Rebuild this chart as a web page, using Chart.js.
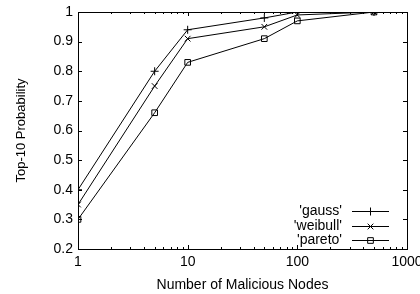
<!DOCTYPE html>
<html>
<head>
<meta charset="utf-8">
<script src="https://cdn.jsdelivr.net/npm/chart.js@4/dist/chart.umd.min.js"></script>
<style>
  html, body { margin: 0; padding: 0; background: #fff; }
  #wrap { width: 420px; height: 294px; }
</style>
</head>
<body>
<div id="wrap"><canvas id="LineChart"></canvas></div>
<script>
var nodes = [1, 5, 10, 50, 100, 500];
var gauss = [0.40, 0.80, 0.94, 0.98, 1.00, 1.00];
var weibull = [0.35, 0.75, 0.91, 0.95, 0.99, 1.00];
var pareto = [0.30, 0.66, 0.83, 0.91, 0.97, 1.00];
var xTicks = [1, 10, 100, 1000];
var seriesNames = ["'gauss'", "'weibull'", "'pareto'"];

function pts(vals) {
    return nodes.map(function (n, i) { return { x: n, y: vals[i] }; });
}

var fam = 'Liberation Sans, Arial, sans-serif';
var font = { family: fam, size: 14 };

var data = {
    datasets: [{
        label: seriesNames[0],
        data: pts(gauss),
        borderColor: '#000', backgroundColor: 'rgba(0,0,0,0)',
        borderWidth: 1, pointStyle: 'cross', pointRadius: 4,
    }, {
        label: seriesNames[1],
        data: pts(weibull),
        borderColor: '#000', backgroundColor: 'rgba(0,0,0,0)',
        borderWidth: 1, pointStyle: 'crossRot', pointRadius: 4,
    }, {
        label: seriesNames[2],
        data: pts(pareto),
        borderColor: '#000', backgroundColor: 'rgba(0,0,0,0)',
        borderWidth: 1, pointStyle: 'rect', pointRadius: 4,
    }]
};

// box, inward ticks and the gnuplot style key
var gnuplotBits = {
    id: 'gnuplotBits',
    afterDraw: function (chart) {
        var ctx = chart.ctx, a = chart.chartArea;
        var xs = chart.scales.x, ys = chart.scales.y;
        ctx.save();
        ctx.strokeStyle = '#000';
        ctx.lineWidth = 1;
        ctx.strokeRect(Math.round(a.left) + 0.5, Math.round(a.top) + 0.5,
            Math.round(a.right - a.left), Math.round(a.bottom - a.top));
        ctx.beginPath();
        ys.ticks.forEach(function (t) {
            var y = Math.round(ys.getPixelForValue(t.value)) + 0.5;
            ctx.moveTo(a.left, y); ctx.lineTo(a.left + 4, y);
            ctx.moveTo(a.right, y); ctx.lineTo(a.right - 4, y);
        });
        for (var d = 1; d < 1000; d *= 10) {
            for (var m = 1; m < 10; m++) {
                var v = d * m;
                var x = Math.round(xs.getPixelForValue(v)) + 0.5;
                var len = m === 1 ? 4 : 2;
                ctx.moveTo(x, a.bottom); ctx.lineTo(x, a.bottom - len);
                ctx.moveTo(x, a.top); ctx.lineTo(x, a.top + len);
            }
        }
        ctx.stroke();

        // key
        ctx.font = '14px ' + fam;
        ctx.textAlign = 'right';
        ctx.textBaseline = 'middle';
        chart.data.datasets.forEach(function (ds, i) {
            var y = Math.round(211 + i * 14.5) + 0.5;
            ctx.fillStyle = '#000';
            ctx.fillText(ds.label, 342, y);
            ctx.beginPath();
            ctx.moveTo(352, y);
            ctx.lineTo(389, y);
            ctx.stroke();
            ctx.fillStyle = 'rgba(0,0,0,0)';
            Chart.helpers.drawPoint(ctx, { pointStyle: ds.pointStyle, radius: 4, rotation: 0, borderWidth: 1 }, 370.5, y);
        });
        ctx.restore();
    }
};

var config = {
    type: 'line',
    data: data,
    options: {
        responsive: false,
        animation: false,
        layout: { padding: { left: 4, right: 13, top: 12, bottom: 0 } },
        plugins: { legend: { display: false }, tooltip: { enabled: false } },
        scales: {
            x: {
                type: 'logarithmic',
                min: 1, max: 1000,
                afterBuildTicks: function (s) {
                    s.ticks = xTicks.map(function (v) { return { value: v }; });
                },
                afterFit: function (s) {
                    s.height = 45;
                    s.paddingLeft = 0;
                    s.paddingRight = 0;
                },
                ticks: {
                    color: '#000', font: font, padding: 5, maxRotation: 0,
                    autoSkip: false,
                    callback: function (v) { return String(v); }
                },
                grid: { display: false, drawTicks: false },
                border: { display: false },
                title: { display: true, text: 'Number of Malicious Nodes', color: '#000', font: font, padding: { top: 2, bottom: 0 } }
            },
            y: {
                min: 0.2, max: 1,
                afterFit: function (s) {
                    s.width = 74;
                    s.paddingTop = 0;
                    s.paddingBottom = 0;
                },
                ticks: {
                    stepSize: 0.1, color: '#000', font: font, padding: 5,
                    callback: function (v) { return String(Math.round(v * 10) / 10); }
                },
                grid: { display: false, drawTicks: false },
                border: { display: false },
                title: { display: true, text: 'Top-10 Probability', color: '#000', font: { family: fam, size: 13 }, padding: { top: 10, bottom: 4 } }
            }
        }
    },
    plugins: [gnuplotBits]
};

var canvas = document.getElementById('LineChart');
canvas.width = 420;
canvas.height = 294;
var lineChart = new Chart(canvas, config);
</script>
</body>
</html>
